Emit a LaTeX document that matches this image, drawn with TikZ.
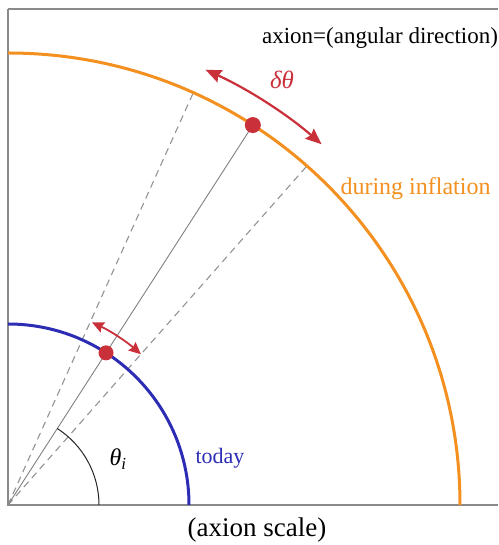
\documentclass[tikz,border=0pt]{standalone}
\usepackage{fontspec}
\setmainfont{Liberation Serif}
\usetikzlibrary{arrows.meta}
\definecolor{infl}{HTML}{F39020}
\definecolor{todaycol}{HTML}{2C2CB4}
\definecolor{axred}{HTML}{C9303A}
\definecolor{framecol}{HTML}{8A8A8A}
\begin{document}
\begin{tikzpicture}[x=1pt,y=1pt,
  frameline/.style={draw=framecol,line width=1.2pt},
  inflarc/.style={draw=infl,line width=3pt},
  todayarc/.style={draw=todaycol,line width=3pt},
  guide/.style={draw=gray!85,line width=1.1pt,dash pattern=on 7pt off 5pt},
  radial/.style={draw=gray,line width=0.9pt},
  anglearc/.style={draw=black!85,line width=1pt},
  dot/.style={fill=axred},
  bigarrow/.style={draw=axred,line width=2.2pt,arrows={Stealth[length=16pt,width=13pt,inset=2pt]-Stealth[length=16pt,width=13pt,inset=2pt]}},
  smallarrow/.style={draw=axred,line width=1.8pt,arrows={Stealth[length=12pt,width=11pt,inset=1.5pt]-Stealth[length=12pt,width=11pt,inset=1.5pt]}},
  lab/.style={inner sep=0pt,font=\fontsize{23}{26}\selectfont}
]
\useasboundingbox (-8,-40) rectangle (490,505);
\coordinate (O) at (0,0);
\coordinate (TL) at (0,496);
\coordinate (TR) at (490,496);
\coordinate (BR) at (490,0);
\draw[frameline] (TL) -- (O) -- (BR);
\draw[frameline] (TL) -- (TR);
% guide lines
\coordinate (G1) at (65.8:452);
\coordinate (G2) at (48.6:452);
\coordinate (P) at (57.2:452);
\coordinate (p) at (57.2:181);
\draw[guide] (O) -- (G1);
\draw[guide] (O) -- (G2);
\draw[radial] (O) -- (P);
% arcs
\draw[inflarc] (452,0) arc[start angle=0,end angle=90,radius=452];
\draw[todayarc] (181,0) arc[start angle=0,end angle=90,radius=181];
\draw[anglearc] (91,0) arc[start angle=0,end angle=57.2,radius=91];
% dots
\fill[dot] (P) circle (8);
\fill[dot] (p) circle (7.5);
% arrows
\coordinate (A1) at (65.6:478);
\coordinate (A2) at (65.3:201);
\draw[bigarrow] (A1) arc[start angle=65.6,end angle=49,radius=478];
\draw[smallarrow] (A2) arc[start angle=65.3,end angle=48.6,radius=201];
% labels
\node[lab] (top) at (372,467) {axion=(angular direction)};
\node[lab,text=infl,font=\fontsize{24}{28}\selectfont] (infl) at (407.5,316) {during inflation};
\node[lab,text=todaycol,font=\fontsize{22}{26}\selectfont] (tod) at (212,47) {today};
\node[lab,text=axred,font=\fontsize{25}{29}\selectfont\itshape] (dth) at (274,425) {δθ};
\node[lab,font=\fontsize{24}{28}\selectfont] (thi) at (110,46) {\textit{θ}\textsubscript{\textit{i}}};
\node[lab,font=\fontsize{27}{30}\selectfont] (scale) at (249,-25) {(axion scale)};
\end{tikzpicture}
\end{document}
